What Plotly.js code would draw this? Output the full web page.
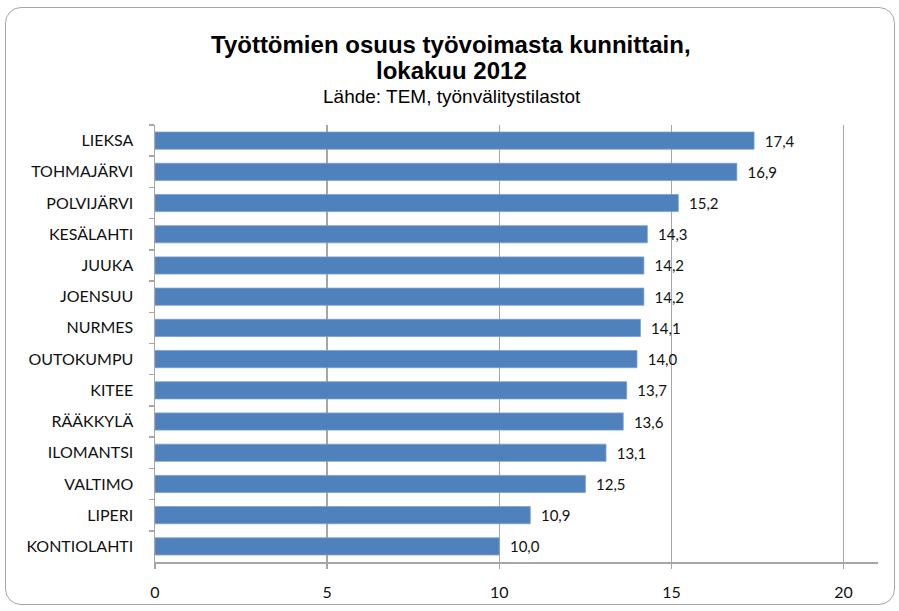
<!DOCTYPE html>
<html>
<head>
<meta charset="utf-8">
<script src="https://cdn.plot.ly/plotly-3.0.1.min.js"></script>
<style>
  html, body { margin: 0; padding: 0; background: #fff; }
  #wrap { position: relative; width: 899px; height: 611px; }
  #chart { width: 899px; height: 611px; }
  #frame { position: absolute; left: 5px; top: 7px; width: 890px; height: 598px;
           border: 1.5px solid #a6a6a6; border-radius: 16px; pointer-events: none; box-sizing: border-box; }
</style>
</head>
<body>
<div id="wrap">
  <div id="chart"></div>
  <div id="frame"></div>
</div>
<script>
const municipalities = ["LIEKSA", "TOHMAJÄRVI", "POLVIJÄRVI", "KESÄLAHTI", "JUUKA", "JOENSUU", "NURMES",
  "OUTOKUMPU", "KITEE", "RÄÄKKYLÄ", "ILOMANTSI", "VALTIMO", "LIPERI", "KONTIOLAHTI"];
const unemploymentRate = [17.4, 16.9, 15.2, 14.3, 14.2, 14.2, 14.1, 14.0, 13.7, 13.6, 13.1, 12.5, 10.9, 10.0];
const xTicks = [0, 5, 10, 15, 20];

const labelFont = "Lato, Carlito, Calibri, 'DejaVu Sans', sans-serif";
const titleFont = "'Liberation Sans Narrow', 'Arial Narrow', 'Liberation Sans', Arial, sans-serif";

const trace = {
  type: "bar",
  orientation: "h",
  y: municipalities,
  x: unemploymentRate,
  marker: { color: "#4F81BD", line: { color: "#7a9fcf", width: 0.8 } },
  text: unemploymentRate.map(v => "\u00a0\u00a0" + v.toFixed(1).replace(".", ",")),
  textposition: "outside",
  constraintext: "none",
  cliponaxis: false,
  textfont: { family: labelFont, size: 15, color: "#111" },
  hoverinfo: "x+y"
};

const layout = {
  width: 899, height: 611,
  margin: { l: 155, r: 21, t: 125, b: 49 },
  paper_bgcolor: "#ffffff",
  plot_bgcolor: "#ffffff",
  showlegend: false,
  bargap: 0.45,
  xaxis: {
    range: [0, 21],
    tickvals: xTicks,
    ticktext: xTicks.map(String),
    showgrid: true, gridcolor: "#a6a6a6", gridwidth: 1.5,
    zeroline: false,
    showline: true, linecolor: "#a6a6a6", linewidth: 1.5,
    ticks: "outside", ticklen: 5, tickcolor: "#a6a6a6", tickwidth: 1.5,
    ticklabelstandoff: 10,
    tickfont: { family: labelFont, size: 16, color: "#111" },
    fixedrange: true
  },
  yaxis: {
    type: "category",
    autorange: "reversed",
    showgrid: false,
    showline: true, linecolor: "#a6a6a6", linewidth: 1.5,
    ticks: "outside", tickson: "boundaries", ticklen: 5, tickcolor: "#a6a6a6", tickwidth: 1.5,
    ticklabelstandoff: 17,
    tickfont: { family: labelFont, size: 16, color: "#111" },
    fixedrange: true
  },
  annotations: [
    { text: "<b>Työttömien osuus työvoimasta kunnittain,</b>", xref: "paper", yref: "paper",
      x: (451 - 155) / 723, y: (562 - 45) / 437, xanchor: "center", yanchor: "middle", showarrow: false,
      font: { family: titleFont, size: 24, color: "#000" } },
    { text: "<b>lokakuu 2012</b>", xref: "paper", yref: "paper",
      x: (451 - 155) / 723, y: (562 - 70) / 437, xanchor: "center", yanchor: "middle", showarrow: false,
      font: { family: titleFont, size: 24, color: "#000" } },
    { text: "Lähde: TEM, työnvälitystilastot", xref: "paper", yref: "paper",
      x: (452 - 155) / 723, y: (562 - 96) / 437, xanchor: "center", yanchor: "middle", showarrow: false,
      font: { family: titleFont, size: 19, color: "#000" } }
  ]
};

Plotly.newPlot("chart", [trace], layout, { displayModeBar: false, staticPlot: true });
</script>
</body>
</html>
